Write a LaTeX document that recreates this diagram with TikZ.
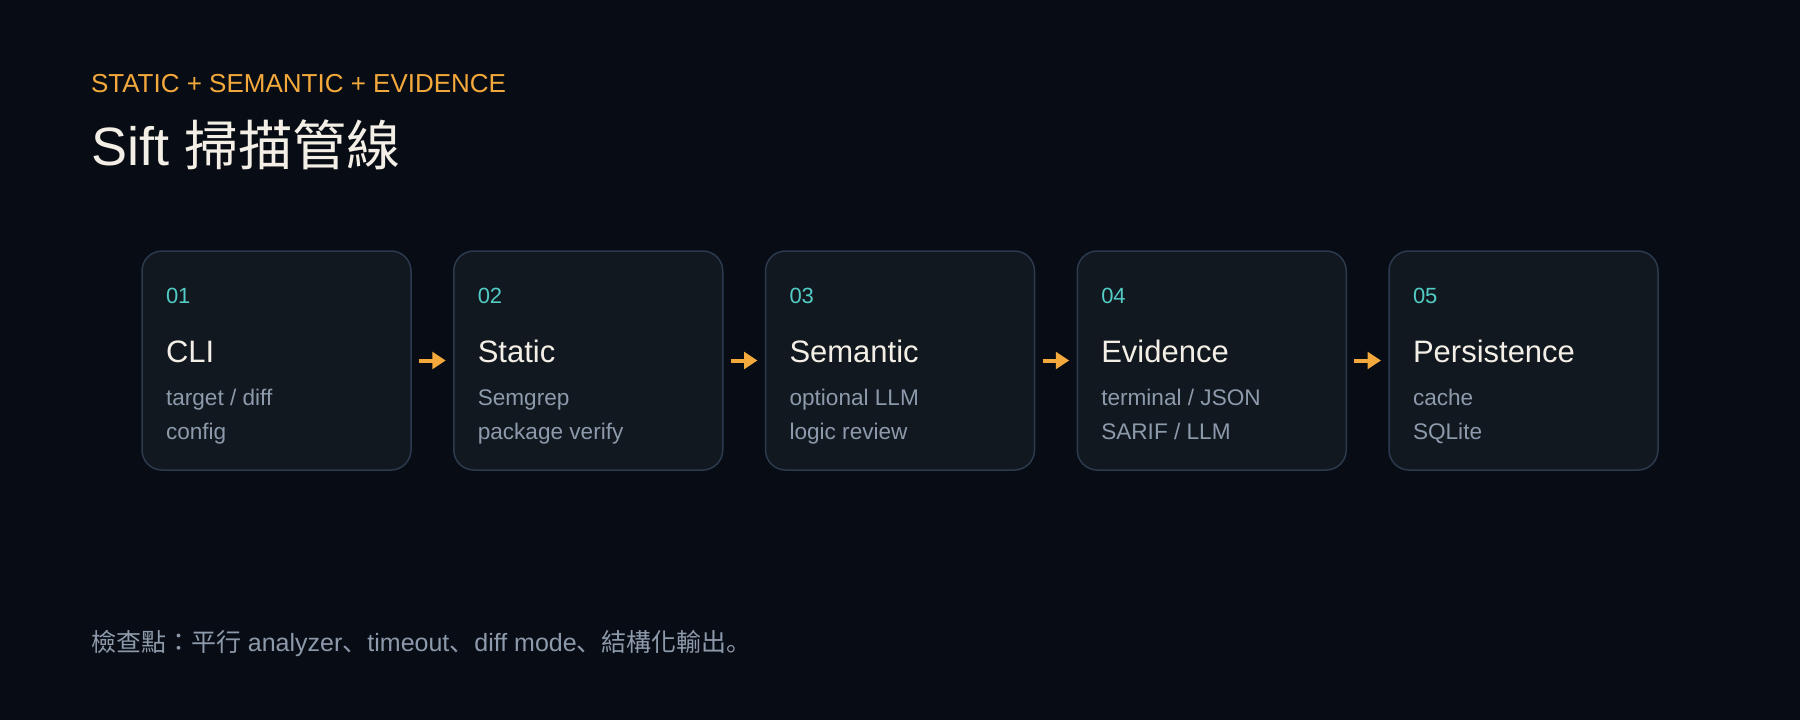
\documentclass[tikz,border=0pt]{standalone}
\usepackage{fontspec}
\setmainfont{Liberation Sans}
\newfontfamily\cjk{Noto Sans CJK TC}
\newfontfamily\cjkp{Noto Sans CJK JP}
\usetikzlibrary{arrows.meta}
\definecolor{bg}{HTML}{080C14}
\definecolor{boxfill}{HTML}{111820}
\definecolor{boxline}{HTML}{2B3A4D}
\definecolor{accent}{HTML}{F4A93C}
\definecolor{teal}{HTML}{52CCC4}
\definecolor{headc}{HTML}{F4EFE6}
\definecolor{subc}{HTML}{8D9AAB}
\newcommand\stagebox[6]{%
  \node[stagecard] (#2) at ({276.5+311.75*#1},360.5) {};
  \node[txt,text=teal,font=\fontsize{11pt}{13pt}\selectfont] (#2num) at ({166+311.75*#1},303) {#3};
  \node[txt,text=headc,font=\fontsize{15.5pt}{18pt}\selectfont] (#2head) at ({166+311.75*#1},362) {#4};
  \node[txt,text=subc,font=\fontsize{11.3pt}{13pt}\selectfont] (#2la) at ({166+311.75*#1},405) {#5};
  \node[txt,text=subc,font=\fontsize{11.3pt}{13pt}\selectfont] (#2lb) at ({166+311.75*#1},439) {#6};
}
\begin{document}
\begin{tikzpicture}[x=0.5pt,y=-0.5pt,
  txt/.style={anchor=base west,inner sep=0pt,outer sep=0pt},
  stagecard/.style={draw=boxline,fill=boxfill,line width=0.75pt,rounded corners=10pt,
    minimum width=134.5pt,minimum height=109.5pt,inner sep=0pt,outer sep=0pt},
  flow/.style={draw=accent,line width=2pt,-{Triangle[length=6.7pt,width=8.3pt]},
    shorten <=4pt,shorten >=4pt}]
\fill[bg] (0,0) rectangle (1800,720);
\useasboundingbox (0,0) rectangle (1800,720);

\node[txt,text=accent,font=\fontsize{13pt}{15pt}\selectfont] (kicker) at (91,92) {STATIC + SEMANTIC + EVIDENCE};
\node[txt,text=headc,font=\fontsize{27pt}{32pt}\selectfont] (title) at (91,165) {Sift {\cjk 掃描管線}};

\stagebox{0}{s1}{01}{CLI}{target / diff}{config}
\stagebox{1}{s2}{02}{Static}{Semgrep}{package verify}
\stagebox{2}{s3}{03}{Semantic}{optional LLM}{logic review}
\stagebox{3}{s4}{04}{Evidence}{terminal / JSON}{SARIF / LLM}
\stagebox{4}{s5}{05}{Persistence}{cache}{SQLite}

\draw[flow] (s1.east) -- (s2.west);
\draw[flow] (s2.east) -- (s3.west);
\draw[flow] (s3.east) -- (s4.west);
\draw[flow] (s4.east) -- (s5.west);

\node[txt,text=subc,font=\fontsize{12.5pt}{15pt}\selectfont] (note) at (91,651)
  {{\cjk 檢查點}{\cjkp ：}{\cjk 平行} analyzer{\cjkp 、}timeout{\cjkp 、}diff mode{\cjkp 、}{\cjk 結構化輸出}{\cjkp 。}};
\end{tikzpicture}
\end{document}
